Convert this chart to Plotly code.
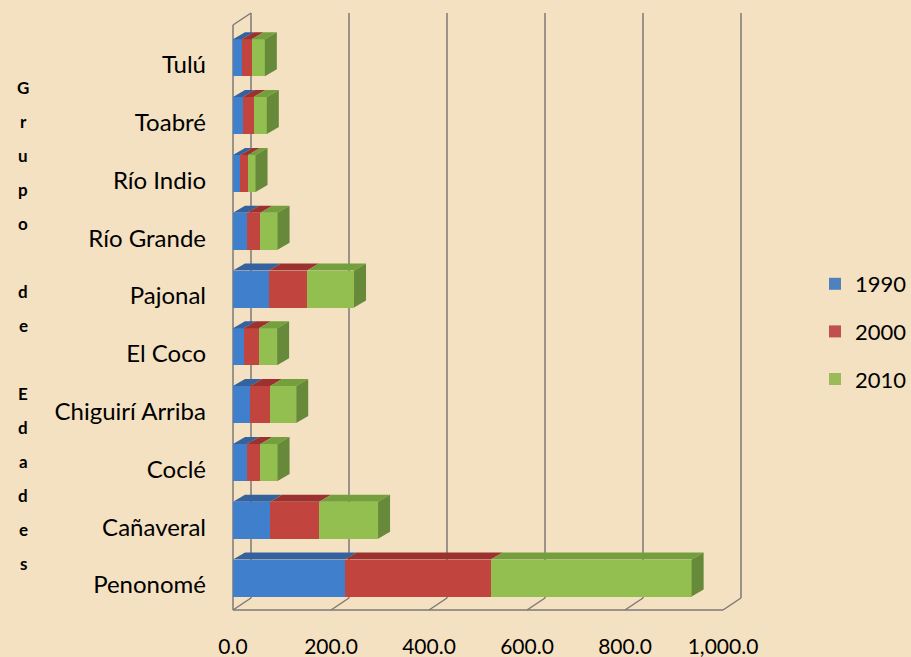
import plotly.graph_objects as go

# ---------------- data ----------------
categories = ["Penonomé", "Cañaveral", "Coclé", "Chiguirí Arriba", "El Coco",
              "Pajonal", "Río Grande", "Río Indio", "Toabré", "Tulú"]
v1990 = [228, 76, 29, 35, 22, 73, 29, 15, 20, 18]
v2000 = [298, 100, 27, 41, 31, 78, 27, 16, 22, 20]
v2010 = [410, 120, 35, 53, 37, 96, 35, 15, 27, 27]
years = ["1990", "2000", "2010"]
x_ticks = [0, 200, 400, 600, 800, 1000]
x_ticklabels = ["0.0", "200.0", "400.0", "600.0", "800.0", "1,000.0"]
axis_title = "Grupo de Edades"

# ---------------- styling / geometry ----------------
W, H = 911, 657
PL, PR, PT, PB = 215, 770, 10, 612          # plot area in pixels
X0PX, SX = 233, 0.49                        # pixel of value 0, px per unit
CY0, SY = 578, 57.8                         # pixel of category 0, px per category
BAR_H = 37 / SY
BAR_DX, BAR_DY = 12 / SX, 7 / SY            # bar depth
WALL_DX, WALL_DY = 18 / SX, 12 / SY         # wall depth
FONT = "Lato, 'Open Sans', sans-serif"
BG = "#f4e1c1"
front_cols = ["#3f7fcc", "#c2443f", "#92bf50"]
top_cols = ["#33629f", "#9c3230", "#739f3d"]
side_col = "#66893a"
legend_cols = ["#4f81bd", "#c0504d", "#9bbb59"]
LINE = "#7d7878"

xr = [(PL - X0PX) / SX, (PR - X0PX) / SX]
yr = [(CY0 - PB) / SY, (CY0 - PT) / SY]
idx = list(range(len(categories)))
series = [v1990, v2000, v2010]

fig = go.Figure()
for name, vals, fc, lc in zip(years, series, front_cols, legend_cols):
    fig.add_trace(go.Bar(
        y=idx, x=vals, orientation="h", name=name, width=BAR_H,
        marker=dict(color=fc, line=dict(width=0)),
        legendgroup=name, showlegend=False, hoverinfo="x+name"))
    # legend-only entry with the classic colour
    fig.add_trace(go.Bar(
        y=[None], x=[None], orientation="h", name=name,
        marker=dict(color=lc, line=dict(width=0)), legendgroup=name))


def poly(pts):
    return "M " + " L ".join(f"{px},{py}" for px, py in pts) + " Z"


shapes = []
# walls / floor / gridlines (below)
y_f = (CY0 - 610) / SY
y_b = y_f + WALL_DY
y_top_b = (CY0 - 13) / SY
y_top_f = y_top_b - WALL_DY
x_end = x_ticks[-1]
line = dict(color=LINE, width=1.5)
for t in x_ticks:
    shapes.append(dict(type="line", xref="x", yref="y", layer="below",
                       x0=t + WALL_DX, x1=t + WALL_DX, y0=y_b, y1=y_top_b, line=line))
    shapes.append(dict(type="line", xref="x", yref="y", layer="below",
                       x0=t, x1=t + WALL_DX, y0=y_f, y1=y_b, line=line))
shapes.append(dict(type="line", xref="x", yref="y", layer="below",
                   x0=0, x1=0, y0=y_f, y1=y_top_f, line=line))
shapes.append(dict(type="line", xref="x", yref="y", layer="below",
                   x0=0, x1=WALL_DX, y0=y_top_f, y1=y_top_b, line=line))
shapes.append(dict(type="line", xref="x", yref="y", layer="below",
                   x0=0, x1=x_end, y0=y_f, y1=y_f, line=line))

# 3D faces of bars (above)
for i in idx:
    cum = 0
    top = i + BAR_H / 2
    bot = i - BAR_H / 2
    for s, vals in enumerate(series):
        a, b = cum, cum + vals[i]
        shapes.append(dict(type="path", xref="x", yref="y", layer="above",
                           path=poly([(a, top), (b, top), (b + BAR_DX, top + BAR_DY),
                                      (a + BAR_DX, top + BAR_DY)]),
                           fillcolor=top_cols[s], line=dict(width=0)))
        cum = b
    shapes.append(dict(type="path", xref="x", yref="y", layer="above",
                       path=poly([(cum, bot), (cum, top), (cum + BAR_DX, top + BAR_DY),
                                  (cum + BAR_DX, bot + BAR_DY)]),
                       fillcolor=side_col, line=dict(width=0)))

# vertical stacked-letter axis title
annotations = []
for k, ch in enumerate(axis_title):
    if ch == " ":
        continue
    ypx = 88 + 33.93 * k
    annotations.append(dict(text=f"<b>{ch}</b>", xref="paper", yref="paper",
                            x=(23 - PL) / (PR - PL), y=(PB - ypx) / (PB - PT),
                            xanchor="center", yanchor="middle", showarrow=False,
                            font=dict(family=FONT, size=17, color="black")))

fig.update_layout(
    width=W, height=H,
    margin=dict(l=PL, r=W - PR, t=PT, b=H - PB, pad=0, autoexpand=False),
    paper_bgcolor=BG, plot_bgcolor="rgba(0,0,0,0)",
    barmode="stack", bargap=0,
    font=dict(family=FONT, size=20, color="black"),
    shapes=shapes, annotations=annotations,
    xaxis=dict(range=xr, tickvals=x_ticks, ticktext=x_ticklabels, showgrid=False,
               zeroline=False, showline=False, ticks="", ticklabelstandoff=20,
               tickfont=dict(size=21), automargin=False),
    yaxis=dict(range=yr, tickvals=idx, ticktext=categories, showgrid=False,
               zeroline=False, showline=False, ticks="", ticklabelstandoff=8,
               ticklabelshift=7, tickfont=dict(size=24), automargin=False),
    legend=dict(xref="container", yref="container", x=815 / W, y=1 - 263 / H,
                xanchor="left", yanchor="top", bgcolor="rgba(0,0,0,0)",
                tracegroupgap=16, itemwidth=30, font=dict(size=22)),
    showlegend=True,
)

fig.write_html("out.html", config={"displayModeBar": False},
               post_script="document.body.style.margin='0';")
